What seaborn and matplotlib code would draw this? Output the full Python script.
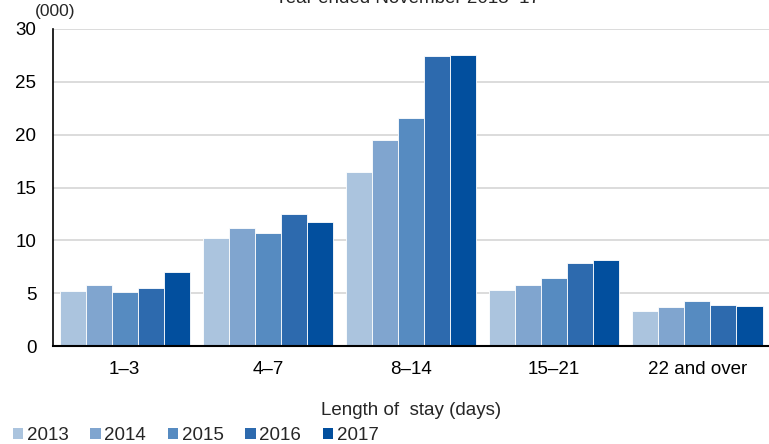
import matplotlib.pyplot as plt
import seaborn as sns
import pandas as pd
from matplotlib.patches import Patch

# length of stay categories and visitor counts (000) per year
stay_bands = ['1–3', '4–7', '8–14', '15–21', '22 and over']
years = ['2013', '2014', '2015', '2016', '2017']
visitors = {
    '2013': [5.2, 10.2, 16.5, 5.3, 3.3],
    '2014': [5.8, 11.2, 19.5, 5.8, 3.7],
    '2015': [5.1, 10.7, 21.6, 6.4, 4.3],
    '2016': [5.5, 12.5, 27.4, 7.9, 3.9],
    '2017': [7.0, 11.7, 27.5, 8.1, 3.8],
}
colors = ['#abc4de', '#80a5cf', '#568bc1', '#2d6aae', '#024f9e']

rows = []
for yr in years:
    for band, val in zip(stay_bands, visitors[yr]):
        rows.append({'stay': band, 'year': yr, 'visitors': val})
df = pd.DataFrame(rows)

sns.set_style('white')
plt.rcParams['font.family'] = ['Liberation Sans', 'DejaVu Sans']
fs = 13.5

fig = plt.figure(figsize=(7.69, 4.44), dpi=100)
ax = fig.add_axes([0.069, 0.2207, 0.931, 0.714])

sns.barplot(data=df, x='stay', y='visitors', hue='year', order=stay_bands,
            hue_order=years, palette=colors, width=0.91, saturation=1,
            edgecolor='white', linewidth=0.6, legend=False, ax=ax)

ax.set_ylim(0, 30)
ax.set_yticks(range(0, 31, 5))
ax.set_xlim(-0.5, 4.5)
ax.yaxis.grid(True, color='#d9d9d9', linewidth=1.3)
ax.set_axisbelow(True)
for side in ['top', 'right']:
    ax.spines[side].set_visible(False)
ax.spines['left'].set_color('black')
ax.spines['bottom'].set_color('black')
ax.spines['left'].set_linewidth(1.2)
ax.spines['bottom'].set_linewidth(1.5)
ax.tick_params(axis='both', length=0, labelsize=fs, colors='black')
ax.tick_params(axis='x', pad=11)
ax.tick_params(axis='y', pad=12)
ax.set_xlabel('Length of  stay (days)', fontsize=fs, labelpad=17)
ax.set_ylabel('')

fig.text(0.045, 0.973, '(000)', fontsize=12.5, ha='left', va='center')
fig.text(0.53, 1 - 3 / 444, 'Year ended November 2013–17', fontsize=fs,
         ha='center', va='baseline')

handles = [Patch(facecolor=c, edgecolor='none') for c in colors]
fig.legend(handles, years, loc='lower left', bbox_to_anchor=(-0.005, -0.038),
           ncol=5, frameon=False, fontsize=fs, handlelength=0.55,
           handleheight=0.55, handletextpad=0.2, columnspacing=1.15)

fig.savefig('out.png', dpi=100)
